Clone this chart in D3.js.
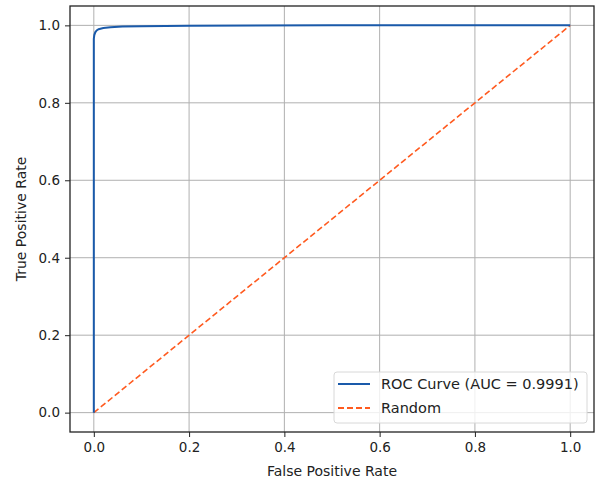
<!DOCTYPE html>
<meta charset="utf-8">
<style>
    body { margin: 0; background: #fff; }
    text { font-family: "DejaVu Sans", sans-serif; fill: #222; }
</style>
<body>
<script src="https://cdn.jsdelivr.net/npm/d3@7"></script>
<script>
// ROC curve
var rocFpr = [0, 0, 0.001, 0.003, 0.006, 0.01, 0.02, 0.035, 0.06, 0.1, 0.2, 0.5, 1.0];
var rocTpr = [0, 0.965, 0.975, 0.982, 0.987, 0.990, 0.993, 0.995, 0.997, 0.998, 0.999, 1.0, 1.0];
var randFpr = [0, 1];
var randTpr = [0, 1];
var ticks = [0, 0.2, 0.4, 0.6, 0.8, 1.0];
var legendLabels = ["ROC Curve (AUC = 0.9991)", "Random"];

var W = 601, H = 487;
var margin = {top: 6, right: 7, bottom: 55, left: 70};

var svg = d3.select("body").append("svg")
    .attr("width", W).attr("height", H);

var x = d3.scaleLinear().domain([-0.05, 1.05]).range([margin.left, W - margin.right]);
var y = d3.scaleLinear().domain([-0.05, 1.05]).range([H - margin.bottom, margin.top]);

// grid
var grid = svg.append("g");
grid.selectAll("line.gx").data(ticks).enter().append("line")
    .attr("x1", d => x(d)).attr("x2", d => x(d))
    .attr("y1", y.range()[0]).attr("y2", y.range()[1])
    .attr("stroke", "#b0b0b0").attr("stroke-width", 1);
grid.selectAll("line.gy").data(ticks).enter().append("line")
    .attr("y1", d => y(d)).attr("y2", d => y(d))
    .attr("x1", x.range()[0]).attr("x2", x.range()[1])
    .attr("stroke", "#b0b0b0").attr("stroke-width", 1);

// axes
var xAxis = svg.append("g")
    .attr("transform", "translate(0," + (H - margin.bottom) + ")")
    .call(d3.axisBottom(x).tickValues(ticks).tickFormat(d3.format(".1f")).tickSize(5).tickPadding(5));
var yAxis = svg.append("g")
    .attr("transform", "translate(" + margin.left + ",0)")
    .call(d3.axisLeft(y).tickValues(ticks).tickFormat(d3.format(".1f")).tickSize(5).tickPadding(5));
[xAxis, yAxis].forEach(function(g) {
    g.select(".domain").remove();
    g.selectAll("text").style("font-size", "13.5px").attr("fill", "#222");
    g.selectAll("line").attr("stroke", "#222");
});

// curves
svg.append("path")
    .datum(d3.zip(randFpr, randTpr))
    .attr("d", d3.line().x(d => x(d[0])).y(d => y(d[1])))
    .attr("fill", "none").attr("stroke", "#ff5a1f").attr("stroke-width", 1.6)
    .attr("stroke-dasharray", "6,3");
svg.append("path")
    .datum(d3.zip(rocFpr, rocTpr))
    .attr("d", d3.line().x(d => x(d[0])).y(d => y(d[1])))
    .attr("fill", "none").attr("stroke", "#1a5aaa").attr("stroke-width", 2);

// frame
svg.append("rect")
    .attr("x", x.range()[0]).attr("y", y.range()[1])
    .attr("width", x.range()[1] - x.range()[0])
    .attr("height", y.range()[0] - y.range()[1])
    .attr("fill", "none").attr("stroke", "#222").attr("stroke-width", 1.3);

// axis labels
svg.append("text")
    .attr("x", (x.range()[0] + x.range()[1]) / 2).attr("y", 476)
    .attr("text-anchor", "middle").style("font-size", "14px")
    .text("False Positive Rate");
svg.append("text")
    .attr("transform", "translate(26," + ((y.range()[0] + y.range()[1]) / 2) + ") rotate(-90)")
    .attr("text-anchor", "middle").style("font-size", "14px")
    .text("True Positive Rate");

// legend
var lg = svg.append("g").attr("transform", "translate(334,372)");
lg.append("rect").attr("width", 253).attr("height", 51).attr("rx", 3)
    .attr("fill", "#fff").attr("fill-opacity", 0.8)
    .attr("stroke", "#d8d8d8");
var colors = ["#1a5aaa", "#ff5a1f"];
var dashes = [null, "6,3"];
legendLabels.forEach(function(t, i) {
    var yy = 12 + i * 24;
    lg.append("line").attr("x1", 4).attr("x2", 36).attr("y1", yy).attr("y2", yy)
        .attr("stroke", colors[i]).attr("stroke-width", 2)
        .attr("stroke-dasharray", dashes[i]);
    lg.append("text").attr("x", 47).attr("y", yy + 5)
        .style("font-size", "14.5px").text(t);
});
</script>
</body>
